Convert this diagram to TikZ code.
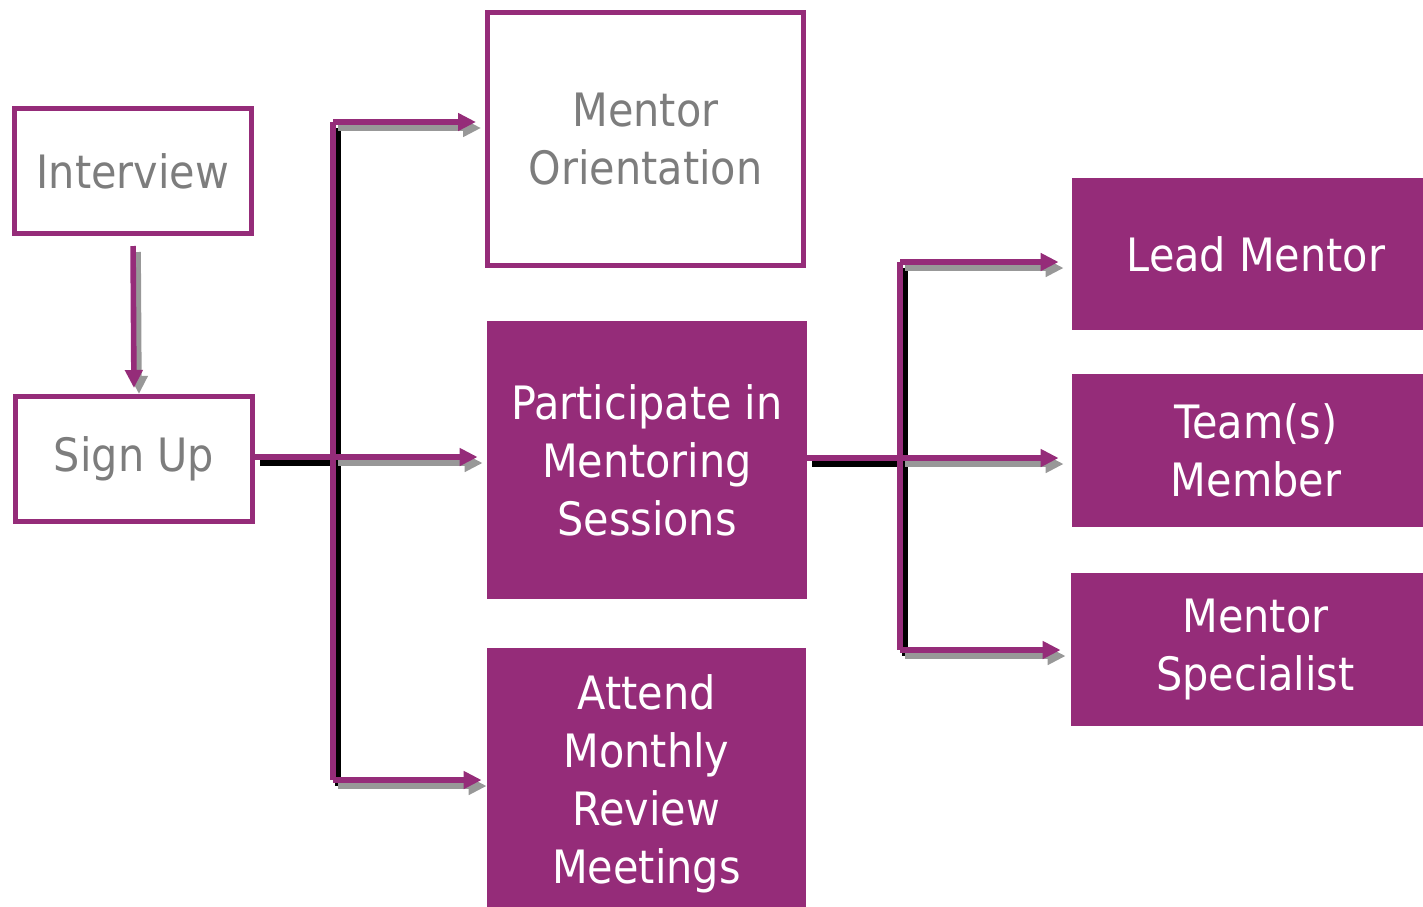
\documentclass[tikz,border=0pt]{standalone}
\usepackage{fontspec}
\setmainfont{DejaVu Sans Condensed}
\usetikzlibrary{arrows.meta}
\definecolor{plum}{RGB}{149,44,121}
\definecolor{shadegray}{RGB}{152,152,152}
\definecolor{labelgray}{RGB}{125,125,125}
\begin{document}
\begin{tikzpicture}[x=0.5pt,y=-0.5pt,
	boxfont/.style={font=\fontsize{23}{29}\selectfont},
	stage/.style={draw=plum,line width=2.4pt,text=labelgray,align=center,inner sep=0pt,boxfont},
	outcome/.style={fill=plum,text=white,align=center,inner sep=0pt,boxfont},
	bar/.style={draw=plum,line width=2.8pt},
	arr/.style={draw=plum,line width=2.8pt,-{Triangle[length=9pt,width=8.5pt]},shorten >=4.5pt},
	ghost/.style={transform canvas={shift={(2.5pt,-3pt)}},bar/.append style={draw=black},arr/.append style={draw=shadegray}},
	front/.style={}]
\useasboundingbox (0,0) rectangle (1423,906);
\node[stage,minimum width=118.6pt,minimum height=62.6pt] (interview) at (133,171) {Interview};
\node[stage,minimum width=118.6pt,minimum height=62.6pt] (signup) at (134,459) {Sign Up};
\node[stage,minimum width=158.1pt,minimum height=126.6pt] (orient) at (645.5,139) {Mentor\\Orientation};
\node[outcome,minimum width=160pt,minimum height=139pt] (part) at (647,460) {Participate in\\Mentoring\\Sessions};
\node[outcome,minimum width=159.5pt,minimum height=136pt] (attend) at (646.5,784) {Attend\\Monthly\\Review\\Meetings};
\node[outcome,minimum width=184pt,minimum height=76pt] (lead) at (1256,254) {Lead Mentor};
\node[outcome,minimum width=184pt,minimum height=76.5pt] (team) at (1256,450.5) {Team(s)\\Member};
\node[outcome,minimum width=184.5pt,minimum height=76.5pt] (spec) at (1255.5,649.5) {Mentor\\Specialist};
\coordinate (ltop) at (333,122);
\coordinate (lmid) at (333,457);
\coordinate (lbot) at (333,780);
\coordinate (rtop) at (900,262);
\coordinate (rmid) at (900,458);
\coordinate (rbot) at (900,650);
% shadow pass first, then the plum lines on top
\foreach \layer in {ghost,front} {
\begin{scope}[\layer]
\draw[arr,shorten <=5pt,shorten >=3pt] (interview.south) -- (signup.north);
\draw[bar] (signup.east |- lmid) -- (lmid);
\draw[bar] (ltop) -- (lbot);
\draw[arr] (ltop) -- (ltop -| orient.west);
\draw[arr] (lmid) -- (lmid -| part.west);
\draw[arr,shorten >=2.5pt] (lbot) -- (lbot -| attend.west);
\draw[bar] (part.east |- rmid) -- (rmid);
\draw[bar] (rtop) -- (rbot);
\draw[arr,shorten >=6.5pt] (rtop) -- (rtop -| lead.west);
\draw[arr,shorten >=6.5pt] (rmid) -- (rmid -| team.west);
\draw[arr,shorten >=5pt] (rbot) -- (rbot -| spec.west);
\end{scope}
}
\end{tikzpicture}
\end{document}
